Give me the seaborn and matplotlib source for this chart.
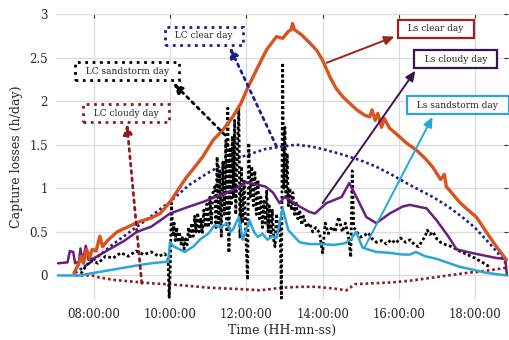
import matplotlib
matplotlib.use("Agg")
import matplotlib.pyplot as plt
import seaborn as sns
import pandas as pd

# Time of day in decimal hours, capture losses in h/day

ls_clear_t = [7.47, 7.58, 7.66, 7.72, 7.8, 7.88, 7.95, 8.05, 8.15, 8.22, 8.35, 8.6, 8.9, 9.2,
              9.5, 9.73, 9.99, 10.2, 10.43, 10.6, 10.85, 11.12, 11.4, 11.64, 11.85, 12.03,
              12.3, 12.53, 12.79, 12.95, 13.1, 13.18, 13.21, 13.26, 13.45, 13.66, 13.85,
              14.0, 14.19, 14.35, 14.53, 14.7, 14.9, 15.1, 15.24, 15.3, 15.38, 15.45, 15.55,
              15.62, 15.76, 16.0, 16.2, 16.46, 16.7, 16.9, 17.1, 17.2, 17.25, 17.33, 17.6,
              17.8, 18.04, 18.3, 18.55, 18.83]
ls_clear_v = [0.03, 0.12, 0.22, 0.14, 0.3, 0.2, 0.3, 0.28, 0.45, 0.33, 0.4, 0.5, 0.56, 0.62,
              0.66, 0.71, 0.84, 0.98, 1.13, 1.22, 1.36, 1.55, 1.68, 1.82, 1.97, 2.15,
              2.39, 2.59, 2.74, 2.72, 2.8, 2.82, 2.89, 2.82, 2.76, 2.67, 2.58,
              2.47, 2.28, 2.15, 2.05, 1.98, 1.9, 1.84, 1.82, 1.9, 1.78, 1.86, 1.7,
              1.8, 1.69, 1.6, 1.52, 1.44, 1.34, 1.24, 1.1, 1.16, 1.02, 0.98, 0.84,
              0.76, 0.67, 0.5, 0.34, 0.18]

ls_cloudy_t = [7.05, 7.3, 7.36, 7.45, 7.5, 7.6, 7.64, 7.7, 7.78, 7.85, 8.0, 8.4, 8.8, 9.12,
               9.5, 9.73, 9.99, 10.43, 10.9, 11.12, 11.5, 11.9, 12.01, 12.2, 12.5, 12.7,
               12.87, 13.0, 13.13, 13.4, 13.65, 13.8, 14.1, 14.5, 14.7, 14.89, 15.15,
               15.41, 15.76, 16.1, 16.29, 16.5, 16.73, 17.0, 17.3, 17.52, 17.8, 18.12,
               18.57, 18.8, 18.84]
ls_cloudy_v = [0.14, 0.15, 0.28, 0.27, 0.14, 0.16, 0.31, 0.15, 0.34, 0.18, 0.2, 0.3, 0.4, 0.5,
               0.56, 0.63, 0.71, 0.78, 0.85, 0.89, 0.95, 1.04, 1.07, 1.05, 1.02, 0.95,
               0.83, 0.9, 0.87, 0.79, 0.73, 0.71, 0.83, 0.9, 1.06, 0.9, 0.67,
               0.6, 0.71, 0.79, 0.81, 0.79, 0.77, 0.63, 0.45, 0.3, 0.27, 0.24,
               0.2, 0.19, 0.02]

ls_sand_t = [7.05, 7.6, 8.0, 8.4, 8.8, 9.2, 9.5, 9.73, 9.95, 9.99, 10.1, 10.38, 10.6, 10.8,
             11.0, 11.17, 11.3, 11.5, 11.58, 11.65, 11.8, 11.9, 12.08, 12.2, 12.3, 12.42,
             12.55, 12.68, 12.79, 12.95, 13.1, 13.4, 13.66, 14.0, 14.3, 14.6, 14.75, 14.88,
             15.05, 15.4, 15.75, 16.1, 16.3, 16.45, 16.7, 17.0, 17.6, 18.0, 18.3, 18.85]
ls_sand_v = [0.0, 0.0, 0.03, 0.06, 0.09, 0.12, 0.14, 0.15, 0.16, 0.38, 0.33, 0.27, 0.33, 0.42,
             0.48, 0.58, 0.55, 0.6, 0.5, 0.53, 0.67, 0.41, 0.63, 0.5, 0.44, 0.48,
             0.41, 0.45, 0.43, 0.77, 0.52, 0.38, 0.36, 0.36, 0.35, 0.37, 0.42, 0.5,
             0.32, 0.27, 0.26, 0.24, 0.24, 0.27, 0.22, 0.19, 0.1, 0.06, 0.03, 0.0]

lc_clear_t = [7.5, 8.0, 8.5, 9.0, 9.5, 9.73, 10.0, 10.5, 11.0, 11.5, 12.0, 12.5, 12.8, 13.3,
              13.7, 14.0, 14.5, 15.0, 15.4, 15.8, 16.2, 16.5, 16.9, 17.3, 17.67, 18.0,
              18.38, 18.6, 18.85]
lc_clear_v = [0.03, 0.18, 0.36, 0.52, 0.68, 0.76, 0.85, 1.04, 1.18, 1.3, 1.38, 1.45, 1.47, 1.5,
              1.48, 1.45, 1.39, 1.32, 1.25, 1.16, 1.06, 0.99, 0.9, 0.79, 0.67, 0.55,
              0.37, 0.26, 0.12]

lc_cloudy_t = [7.5, 7.95, 8.1, 8.5, 9.0, 9.5, 9.9, 10.5, 11.0, 11.5, 12.0, 12.35, 12.95, 13.4,
               13.84, 14.3, 14.63, 14.85, 15.3, 15.8, 16.3, 16.8, 17.3, 17.8, 18.04, 18.4,
               18.85]
lc_cloudy_v = [0.0, 0.0, -0.02, -0.05, -0.07, -0.09, -0.1, -0.12, -0.14, -0.15, -0.16, -0.17,
               -0.14, -0.13, -0.13, -0.15, -0.17, -0.1, -0.09, -0.08, -0.06, -0.03, 0.0,
               0.03, 0.04, 0.06, 0.09]

lc_sand_t = [7.65, 7.8, 7.95, 8.1, 8.3, 8.5, 8.7, 8.9, 9.1, 9.3, 9.5, 9.7, 9.85, 9.94, 9.97,
             10.0, 10.03, 10.07, 10.1, 10.13, 10.17, 10.2, 10.24, 10.28, 10.32, 10.36, 10.4,
             10.44, 10.48, 10.52, 10.56, 10.6, 10.64, 10.68, 10.72, 10.76, 10.8, 10.84,
             10.88, 10.92, 10.96, 11.0, 11.04, 11.08, 11.12, 11.17, 11.2, 11.23, 11.27,
             11.3, 11.34, 11.38, 11.42, 11.46, 11.49, 11.51, 11.54, 11.57, 11.6, 11.63,
             11.66, 11.69, 11.72, 11.76, 11.8, 11.83, 11.87, 11.9, 11.94, 11.98, 12.03,
             12.06, 12.1, 12.14, 12.18, 12.22, 12.26, 12.3, 12.34, 12.38, 12.42, 12.46,
             12.5, 12.53, 12.57, 12.6, 12.64, 12.68, 12.72, 12.75, 12.79, 12.83, 12.88,
             12.92, 12.95, 12.98, 13.01, 13.04, 13.07, 13.1, 13.14, 13.18, 13.22, 13.26,
             13.3, 13.35, 13.4, 13.45, 13.5, 13.58, 13.66, 13.74, 13.82, 13.92, 14.0,
             14.07, 14.15, 14.25, 14.33, 14.42, 14.52, 14.6, 14.68, 14.74, 14.78, 14.82,
             14.9, 15.0, 15.1, 15.2, 15.3, 15.42, 15.55, 15.68, 15.8, 15.92, 16.05,
             16.18, 16.3, 16.42, 16.52, 16.62, 16.7, 16.75, 16.82, 16.9, 17.0, 17.1,
             17.25, 17.4, 17.6, 17.8, 18.0, 18.2, 18.38]
lc_sand_v = [0.02, 0.12, 0.17, 0.14, 0.22, 0.2, 0.26, 0.22, 0.28, 0.24, 0.27, 0.22, 0.25, 0.2,
             -0.25, 0.1, 0.83, 0.45, 0.6, 0.4, 0.55, 0.38, 0.5, 0.36, 0.45, 0.3, 0.42,
             0.35, 0.55, 0.42, 0.6, 0.45, 0.68, 0.5, 0.72, 0.5, 0.66, 0.48,
             0.75, 0.55, 0.82, 0.55, 0.9, 0.6, 0.95, 1.02, 0.55, 1.36, 0.6,
             1.2, 0.45, 1.3, 0.7, 1.55, 0.5, 1.92, 0.26, 1.47, 0.8, 1.6,
             0.9, 1.78, 0.7, 1.4, 1.92, 0.44, 1.25, 0.6, 1.1, 0.5, -0.05,
             1.52, 0.9, 1.25, 0.8, 1.2, 0.7, 1.1, 0.65, 0.9, 0.55, 0.85,
             0.6, 0.98, 0.5, 0.8, 0.44, 0.75, 0.4, 0.33, 0.71, 0.5, 0.6,
             -0.26, 2.44, 1.0, 1.7, 0.9, 1.4, 0.8, 1.0, 0.75, 0.95, 0.7,
             0.85, 0.65, 0.75, 0.58, 0.68, 0.55, 0.6, 0.5, 0.55, 0.49, 0.26,
             0.6, 0.48, 0.56, 0.5, 0.67, 0.5, 0.6, 0.45, 0.21, 1.2, 0.55,
             0.5, 0.44, 0.46, 0.49, 0.42, 0.38, 0.4, 0.36, 0.41, 0.37, 0.43,
             0.38, 0.41, 0.35, 0.33, 0.4, 0.45, 0.52, 0.47, 0.5, 0.42, 0.38,
             0.35, 0.33, 0.28, 0.24, 0.2, 0.15, 0.1]

x_ticks = [8, 10, 12, 14, 16, 18]
x_tick_labels = ["08:00:00", "10:00:00", "12:00:00", "14:00:00", "16:00:00", "18:00:00"]
y_ticks = [0, 0.5, 1, 1.5, 2, 2.5, 3]
y_tick_labels = ["0", "0.5", "1", "1.5", "2", "2.5", "3"]

sns.set_theme(style="whitegrid")
plt.rcParams["font.family"] = ["DejaVu Serif"]

fig = plt.figure(figsize=(5.1, 3.4), dpi=100)
ax = fig.add_axes([0.110, 0.118, 0.886, 0.841])

series = [
    (lc_cloudy_t, lc_cloudy_v, "#8c1a1f", (0, (1, 1.1)), 1.9),
    (lc_clear_t, lc_clear_v, "#1d1d8c", (0, (1, 1.1)), 1.9),
    (lc_sand_t, lc_sand_v, "#000000", (0, (1, 0.9)), 2.0),
    (ls_sand_t, ls_sand_v, "#2aa6da", "-", 1.8),
    (ls_cloudy_t, ls_cloudy_v, "#6a1f7e", "-", 1.8),
    (ls_clear_t, ls_clear_v, "#d9531e", "-", 2.4),
]
for t, v, color, ls, lw in series:
    df = pd.DataFrame({"t": t, "v": v})
    sns.lineplot(data=df, x="t", y="v", ax=ax, color=color, linestyle=ls,
                 linewidth=lw, estimator=None, sort=False)

ax.set_xlim(7.0, 18.87)
ax.set_ylim(-0.28, 3.0)
ax.set_xticks(x_ticks)
ax.set_xticklabels(x_tick_labels)
ax.set_yticks(y_ticks)
ax.set_yticklabels(y_tick_labels)
ax.grid(True, color="#dcdcdc", linewidth=0.9)
for s in ax.spines.values():
    s.set_visible(False)
ax.tick_params(axis="both", direction="in", length=3, width=0.8, color="#333333",
               labelsize=8.5, top=True, right=True, pad=6)
ax.set_xlabel("Time (HH-mn-ss)", fontsize=9, labelpad=2)
ax.set_ylabel("Capture losses (h/day)", fontsize=9, labelpad=4)

# Labels with arrows pointing from each curve to its box
notes = [
    ("Ls clear day", (16.98, 2.83), (14.11, 2.44), (15.89, 2.74), "#9a2418", "-"),
    ("Ls cloudy day", (17.5, 2.48), (14.0, 0.83), (16.44, 2.35), "#3a1450", "-"),
    ("Ls sandstorm day", (17.55, 1.95), (15.1, 0.32), (16.89, 1.82), "#2aa6da", "-"),
    ("LC clear day", (10.89, 2.75), (12.79, 1.48), (11.56, 2.62), "#1d1d8c", ":"),
    ("LC sandstorm day", (8.87, 2.34), (11.44, 1.61), (10.07, 2.21), "#000000", ":"),
    ("LC cloudy day", (8.83, 1.86), (9.25, -0.09), (8.86, 1.74), "#8c1a1f", ":"),
]
for text, pos, tail, head, color, ls in notes:
    lw = 1.4 if ls == "-" else 2.0
    ax.annotate("", xy=head, xytext=tail,
                arrowprops=dict(arrowstyle="-|>,head_length=0.5,head_width=0.22",
                                color=color, lw=lw, linestyle=ls,
                                shrinkA=0, shrinkB=0))
    ax.text(pos[0], pos[1], "  " + text + "  ", fontsize=6.5, ha="center", va="center",
            color="#222222", zorder=5,
            bbox=dict(boxstyle="square,pad=0.5", fc="white", ec=color,
                      lw=1.6 if ls == "-" else 2.0, ls=ls))

fig.savefig("out.png", dpi=100)
